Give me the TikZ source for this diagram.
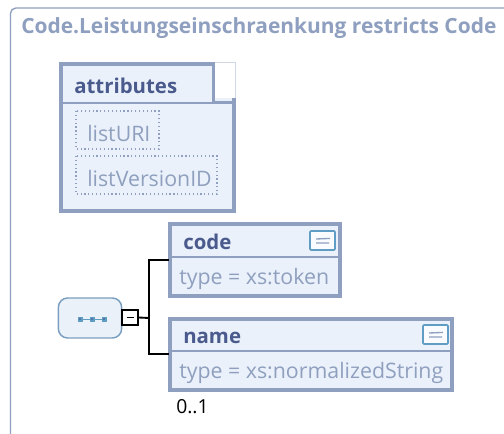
\documentclass[tikz,border=0pt]{standalone}
\usepackage{fontspec}
\setmainfont{Open Sans}
\definecolor{frameblue}{HTML}{8E9FBF}
\definecolor{fillblue}{HTML}{EAF1FB}
\definecolor{titleblue}{HTML}{4A5A8C}
\definecolor{greytext}{HTML}{8F9FBE}
\definecolor{iconblue}{HTML}{5F9DC4}
\definecolor{seqfill}{HTML}{EAF1F8}
\definecolor{seqline}{HTML}{7B9FC0}
\tikzset{
  px/.style={x=0.75pt,y=-0.75pt},
  box/.style={draw=frameblue,fill=fillblue,line width=3pt},
  thinrule/.style={draw=frameblue,line width=1.1pt},
  head/.style={text=titleblue,font=\fontsize{15.3}{18}\selectfont\bfseries,anchor=base west,inner sep=0pt},
  grey/.style={text=greytext,font=\fontsize{16}{19}\selectfont,anchor=base west,inner sep=0pt},
  dotbox/.style={draw=frameblue,line width=0.9pt,dotted},
  conn/.style={draw=black,line width=1.4pt},
}
\newcommand{\noteicon}[2]{%
  \draw[draw=iconblue,fill=white!70!fillblue,line width=1.2pt,rounded corners=0.8pt] (#1,#2) rectangle ++(25,19);
  \draw[frameblue,line width=1pt] (#1+6,#2+8) -- ++(14,-0.6) (#1+6,#2+12) -- ++(13,0);
}
\begin{document}
\begin{tikzpicture}[px]
\useasboundingbox (0,0) rectangle (504,433);
\fill[white] (0,0) rectangle (504,433);
% outer frame
\draw[frameblue,line width=1pt,rounded corners=4pt] (10.5,434) -- (10.5,8) -- (504.5,8);
\node[text=frameblue,font=\fontsize{15.7}{18}\selectfont\bfseries,anchor=base west,inner sep=0pt] (title) at (21,33) {Code.Leistungseinschraenkung restricts Code};
% attributes
\draw[box] (61,64) rectangle (234,211);
\fill[white] (215,60) rectangle (237,98);
\draw[fillblue!70!frameblue,line width=0.5pt] (215,62.5) -- (235.5,62.5) -- (235.5,98);
\draw[frameblue,line width=2.2pt] (213.5,63) -- (213.5,102) -- (236,102);
\draw[frameblue,line width=1.3pt] (62,103) -- (234,103);
\node[head] (attr) at (74,93) {attributes};
\draw[dotbox] (76,111) rectangle (159,149);
\node[grey] (uri) at (87,141.5) {listURI};
\draw[dotbox] (76,156) rectangle (217,194);
\node[grey] (ver) at (87,186.5) {listVersionID};
% code
\draw[box] (170,224) rectangle (340,296);
\draw[thinrule] (171,257) -- (339,257);
\node[head] (code) at (183,249) {code};
\node[grey] (codet) at (179,284) {type = xs:token};
\noteicon{310}{231}
% name
\draw[box] (170,319) rectangle (452,390);
\draw[thinrule] (171,351) -- (451,351);
\node[head] (name) at (183,343) {name};
\node[grey] (namet) at (179,378) {type = xs:normalizedString};
\noteicon{423}{325}
\node[anchor=base west,inner sep=0pt,font=\fontsize{14.5}{17}\selectfont] (occ) at (176,413) {0..1};
% sequence
\node[draw=seqline,fill=seqfill,line width=1.1pt,rounded corners=7pt,minimum width=47.5pt,minimum height=30pt,inner sep=0pt] (seq) at (90,318) {};
\draw[iconblue,line width=0.5pt] (80,319) -- (104,319);
\foreach \xx in {80,92,104}{
  \fill[iconblue] (\xx-2.5,316.5) rectangle ++(5,5);
  \fill[titleblue!60!iconblue] (\xx-1,318) rectangle ++(2,2);
}
% minus box
\node[draw=black,fill=white,line width=1.6pt,minimum size=11.5pt,inner sep=0pt] (minus) at (130,317.5) {};
\draw[black,line width=1.4pt] (minus.center) ++(-3.5,0) -- ++(7,0);
% connectors
\coordinate (j) at (149,318);
\draw[conn] (minus.east) -- (j);
\draw[conn] (168.5,260) -- (149,260) -- (149,354) -- (168.5,354);
\end{tikzpicture}
\end{document}
